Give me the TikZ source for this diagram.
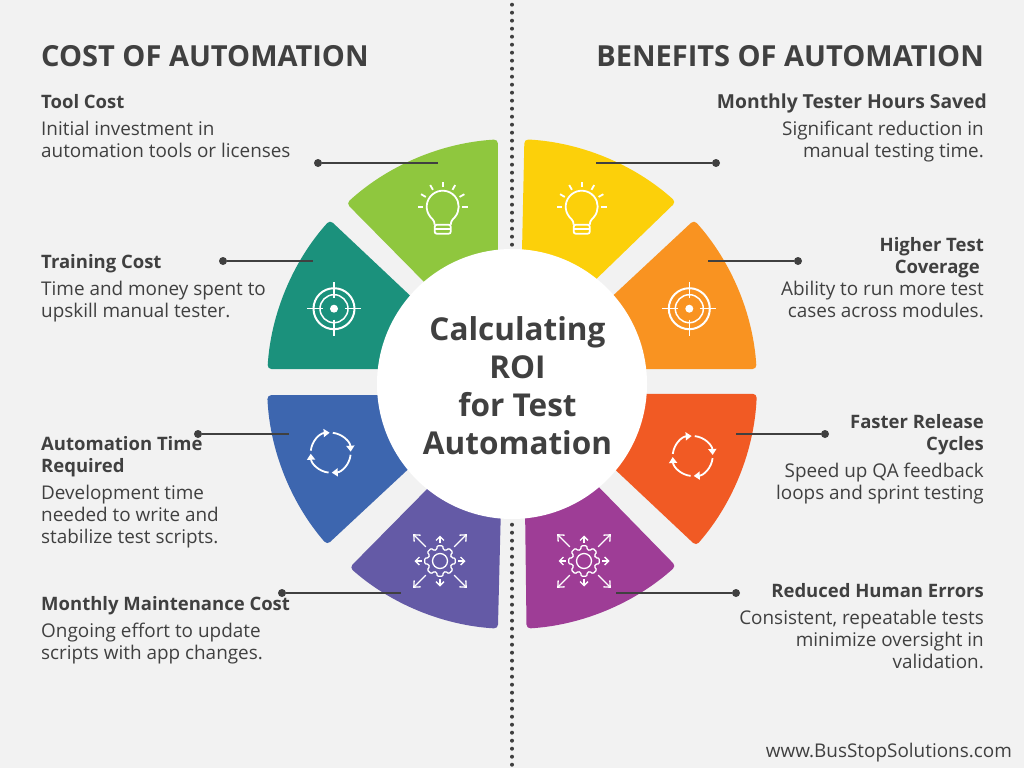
\documentclass[tikz,border=0pt]{standalone}
\usepackage{fontspec}
\setmainfont{Open Sans}
\usetikzlibrary{arrows.meta,calc}
\definecolor{pagegray}{HTML}{F2F2F2}
\definecolor{inkgray}{HTML}{404040}
\definecolor{leafgreen}{HTML}{8FC73E}
\definecolor{tealgreen}{HTML}{1B917C}
\definecolor{steelblue}{HTML}{3D66AF}
\definecolor{slatepurple}{HTML}{645AA6}
\definecolor{plumpurple}{HTML}{9E3D96}
\definecolor{sunyellow}{HTML}{FCD00A}
\definecolor{amberorange}{HTML}{F99321}
\definecolor{flameorange}{HTML}{F15A24}
\tikzset{
  title/.style={anchor=base,inner sep=0pt,text=inkgray,font=\fontsize{29}{30}\selectfont\bfseries},
  headleft/.style={anchor=base west,inner sep=0pt,text=inkgray,align=left,font=\fontsize{18.5}{22}\selectfont\bfseries},
  headright/.style={anchor=base east,inner sep=0pt,text=inkgray,align=right,font=\fontsize{18.5}{22}\selectfont\bfseries},
  bodyleft/.style={anchor=base west,inner sep=0pt,text=inkgray,align=left,font=\fontsize{18.9}{22}\selectfont},
  bodyright/.style={anchor=base east,inner sep=0pt,text=inkgray,align=right,font=\fontsize{18.9}{22}\selectfont},
  wedge/.style={rounded corners=4pt},
  dot/.style={circle,fill=inkgray,inner sep=0pt,minimum size=8pt},
  leader/.style={draw=inkgray,line width=2pt},
  bulbicon/.pic={
    \draw[white,line width=1.8pt] (-8,18) .. controls (-8,13) and (-12.3,11) .. (140:16) arc (140:400:16) .. controls (12.3,11) and (8,13) .. (8,18);
    \draw[white,line width=1.8pt,rounded corners=2pt] (-8,18) -- (-8,27) -- (8,27) -- (8,18) -- cycle;
    \draw[white,line width=1.5pt] (-8,22.5) -- (8,22.5);
    \foreach \ang in {180,210,...,360}
      \draw[white,line width=1.8pt] (\ang:19.5) -- (\ang:25);
  },
  targeticon/.pic={
    \draw[white,line width=2pt] (0,0) circle (20.5);
    \draw[white,line width=1.5pt] (0,0) circle (14);
    \fill[white] (0,0) circle (4);
    \foreach \ang in {0,90,180,270}
      \draw[white,line width=1.5pt] (\ang:11) -- (\ang:27);
  },
  cycleicon/.pic={
    \foreach \ang in {0,90,180,270}
      \draw[white,line width=1.8pt,-{Triangle[length=6pt,width=8pt]}] (\ang+6:20) arc (\ang+6:\ang+87:20);
  },
  gearicon/.pic={
    \draw[white,line width=1.3pt,rounded corners=1pt] (-16:12)
      \foreach \ang in {0,45,...,315} { -- (\ang-10:15.5) -- (\ang+10:15.5) -- (\ang+16:12) -- (\ang+29:12) } -- cycle;
    \draw[white,line width=1.3pt] (0,0) circle (7.5);
    \foreach \ang in {0,90,180,270}
      \draw[white,line width=1.3pt,-{Straight Barb[length=4pt,width=8pt]}] (\ang:18) -- (\ang:25.5);
    \foreach \ang in {45,135,225,315}
      \draw[white,line width=1.3pt,-{Straight Barb[length=5pt,width=9pt]}] (\ang:20) -- (\ang:38);
  }
}
\begin{document}
\begin{tikzpicture}[x=1pt,y=-1pt]
  \useasboundingbox (0,0) rectangle (1024,768);
  \fill[pagegray] (0,0) rectangle (1024,768);
  \coordinate (hubc) at (512,384);
  \coordinate (linetop) at (512,4.7);
  \coordinate (linebot) at (512,768);
  \draw[inkgray,line width=4pt,line cap=round,dash pattern=on 0pt off 8pt] (linetop) -- (linebot);

  % left half
  \fill[leafgreen,wedge] (433,291) -- ($(hubc)+(227.5:245)$) arc (227.5:266.7:245) -- (498,270) -- cycle;
  \fill[tealgreen,wedge] (419,304) -- ($(hubc)+(222:245)$) arc (222:183.5:245) -- (385,369) -- cycle;
  \fill[steelblue,wedge] (417,461) -- ($(hubc)+(139:245)$) arc (139:177.4:245) -- (385,395) -- cycle;
  \fill[slatepurple,wedge] (437,479) -- ($(hubc)+(131.5:245)$) arc (131.5:93.3:245) -- (501,505) -- cycle;
  % right half
  \fill[sunyellow,wedge] (587,288) -- ($(hubc)+(-48:245)$) arc (-48:-87.1:245) -- (521.5,275) -- cycle;
  \fill[amberorange,wedge] (604,304) -- ($(hubc)+(-42:245)$) arc (-42:-3.5:245) -- (630,369) -- cycle;
  \fill[flameorange,wedge] (606,461) -- ($(hubc)+(41.3:245)$) arc (41.3:2.3:245) -- (630,394) -- cycle;
  \fill[plumpurple,wedge] (589,477) -- ($(hubc)+(48:245)$) arc (48:86.6:245) -- (525,505) -- cycle;

  \node[circle,fill=white,minimum size=270pt,inner sep=0pt] (hub) at (hubc) {};
  \node[anchor=base,inner sep=0pt,text=inkgray,align=center,font=\fontsize{31.5}{38}\selectfont\bfseries] (hubtext) at (517.5,454) {Calculating\\ROI\\for Test\\Automation};

  \pic at (442.7,206.7) {bulbicon};
  \pic at (581.7,206.7) {bulbicon};
  \pic at (334,308.7) {targeticon};
  \pic at (689.3,308.7) {targeticon};
  \pic at (330.7,452.7) {cycleicon};
  \pic at (692.7,456) {cycleicon};
  \pic at (440,561) {gearicon};
  \pic at (584,561) {gearicon};

  \node[dot] (tooldot) at (318,163) {};
  \coordinate (toolend) at (438,163);
  \draw[leader] (tooldot) -- (toolend);
  \node[dot] (traindot) at (223,261) {};
  \coordinate (trainend) at (313,261);
  \draw[leader] (traindot) -- (trainend);
  \node[dot] (timedot) at (198,434) {};
  \coordinate (timeend) at (289,434);
  \draw[leader] (timedot) -- (timeend);
  \node[dot] (maintdot) at (282,593) {};
  \coordinate (maintend) at (401,593);
  \draw[leader] (maintdot) -- (maintend);
  \node[dot] (hoursdot) at (716,163) {};
  \coordinate (hoursend) at (596,163);
  \draw[leader] (hoursdot) -- (hoursend);
  \node[dot] (coverdot) at (798,261) {};
  \coordinate (coverend) at (708,261);
  \draw[leader] (coverdot) -- (coverend);
  \node[dot] (fasterdot) at (825,434) {};
  \coordinate (fasterend) at (736,434);
  \draw[leader] (fasterdot) -- (fasterend);
  \node[dot] (errordot) at (736,593) {};
  \coordinate (errorend) at (616,593);
  \draw[leader] (errordot) -- (errorend);

  \node[title,anchor=base west] (costtitle) at (41,66.5) {COST OF AUTOMATION};
  \node[title,anchor=base east] (benefittitle) at (984,66.5) {BENEFITS OF AUTOMATION};

  \node[headleft] (toolhead) at (41,108) {Tool Cost};
  \node[bodyleft] (toolbody) at (41,157.5) {Initial investment in\\automation tools or licenses};
  \node[headleft] (trainhead) at (41,268) {Training Cost};
  \node[bodyleft] (trainbody) at (41,317.5) {Time and money spent to\\upskill manual tester.};
  \node[headleft] (timehead) at (41,472) {Automation Time\\Required};
  \node[bodyleft] (timebody) at (41,543.5) {Development time\\needed to write and\\stabilize test scripts.};
  \node[headleft] (mainthead) at (41,610) {Monthly Maintenance Cost};
  \node[bodyleft] (maintbody) at (41,659.5) {Ongoing effort to update\\scripts with app changes.};

  \node[headright,font=\fontsize{19.3}{22}\selectfont\bfseries] (hourshead) at (987,108) {Monthly Tester Hours Saved};
  \node[bodyright] (hoursbody) at (984,157.5) {Significant reduction in\\manual testing time.};
  \node[headright] (coverhead) at (984,273) {Higher Test\\Coverage\kern4pt};
  \node[bodyright] (coverbody) at (984,317.5) {Ability to run more test\\cases across modules.};
  \node[headright] (fasterhead) at (984,450) {Faster Release\\Cycles};
  \node[bodyright] (fasterbody) at (984,499.5) {Speed up QA feedback\\loops and sprint testing};
  \node[headright] (errorhead) at (984,597) {Reduced Human Errors};
  \node[bodyright] (errorbody) at (984,668.5) {Consistent, repeatable tests\\minimize oversight in\\validation.};

  \node[bodyright] (siteurl) at (1012,757) {www.BusStopSolutions.com};
\end{tikzpicture}
\end{document}
